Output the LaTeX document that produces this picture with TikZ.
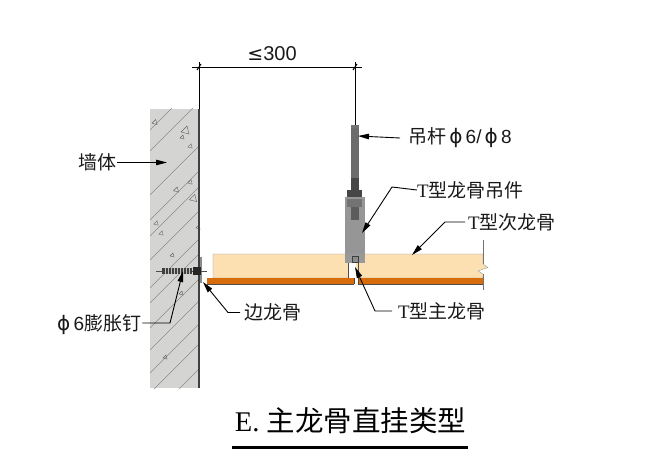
\documentclass[tikz,border=0pt]{standalone}
\usepackage{fontspec}
\setmainfont{Liberation Serif}
\newfontfamily\cjk{Noto Sans CJK SC}
\newfontfamily\dejafont{DejaVu Sans}
\newfontfamily\arialf{Liberation Sans}
\usetikzlibrary{arrows.meta,calc}
\definecolor{wallc}{RGB}{212,212,210}
\definecolor{panelc}{RGB}{252,224,178}
\definecolor{stripc}{RGB}{214,108,10}
\definecolor{boxc}{RGB}{150,150,150}
\definecolor{rodc}{RGB}{108,108,108}
\definecolor{darkc}{RGB}{70,70,70}
\definecolor{inkc}{RGB}{25,25,25}
\tikzset{
  lbl/.style={inner sep=0pt,text=inkc,font=\fontsize{19}{21}\selectfont},
  leader/.style={draw=black,line width=0.9pt,-{Stealth[length=11pt,width=5.5pt,inset=0pt]}},
  hatchl/.style={draw=black!45,line width=0.4pt},
  tri/.style={draw=black!60,line width=0.4pt}
}
\newcommand{\phichar}{{\dejafont\fontsize{20}{22}\selectfont ϕ}}
\begin{document}
\begin{tikzpicture}[x=1pt,y=-1pt]
\useasboundingbox (0,0) rectangle (661,476);
% wall
\fill[wallc] (150,109) rectangle (199,388);
\begin{scope}
\clip (150,109) rectangle (199,388);
\foreach \y in {132,153,197,222,238,262,290,305,330,352,375,395,420,445}
  \draw[hatchl] (148,\y) -- ++(60,-60);
\end{scope}
\foreach \x/\y/\r in {154.5/122/2.5,185/130/4,182/137/2,190/146/2.2,190/182/2.2,176/189.5/2.5,193/198/3.6,156/223/2.2,161/233/2.2,198/227/2,172/255/2,181/293/2,165/357/2}
  \draw[tri] (\x-\r,\y+0.5*\r) -- (\x+\r*0.5,\y-\r) -- (\x+\r,\y+\r) -- cycle;
\draw[black!75,line width=1.2pt] (199,109) -- (199,388);
% panel, strip
\fill[panelc,draw=black!45,line width=0.3pt] (213,254) -- (483,254) -- (483,264) -- (488,267.5) -- (478,271) -- (483,274) -- (483,278) -- (213,278) -- cycle;
\fill[stripc] (207,278) rectangle (354,284);
\fill[stripc] (358,278) rectangle (483.5,284);
\draw[black!70,line width=0.5pt] (207,284) -- (354,284) (358,284) -- (483.5,284);
\draw[black!55,line width=0.5pt] (483.5,240) -- (483.5,264) (483.5,274) -- (483.5,290);
% hanger
\fill[white] (347.5,263) rectangle (356,278);
\fill[white] (354,278) rectangle (358,284);
\draw[black!70,line width=0.5pt] (354,278) -- (354,284) (358,263) -- (358,284) (348,263) -- (348,278);
\fill[boxc] (345,197) rectangle (365,263);
\fill[black!40] (345,254) rectangle (365,263);
\fill[black!45,draw=black!75,line width=0.6pt] (352,256) rectangle (358,262);
\fill[rodc] (351,125) rectangle (359,178);
\fill[black!55] (351,125) rectangle (359,128);
\fill[darkc] (351,178) rectangle (359,190);
\fill[darkc] (347,190) rectangle (362,197);
\fill[black!55] (347,199) rectangle (362,207);
\fill[rodc!85!black] (351,207) rectangle (359,220);
% anchor
\fill[black!45] (200,257) rectangle (202,283);
\draw[black!70,line width=0.6pt] (156,271) -- (207,271);
\fill[black!75] (162,268) rectangle (192,274);
\fill[black!85] (193,267) rectangle (201,275);
\foreach \x in {165,168,...,189} \draw[black!25,line width=0.4pt] (\x,268) -- (\x,274);
% dimension
\coordinate (dl) at (199,67);
\coordinate (dr) at (355,67);
\coordinate (rodtop) at (355,125);
\coordinate (walltop) at (199,109);
\draw[black,line width=0.8pt] (192,67) -- (362,67);
\draw[black,line width=0.7pt] (199,62) -- (walltop);
\draw[black,line width=0.7pt] (355,62) -- (rodtop);
\draw[black,line width=1pt] (197,70) -- (201,64);
\draw[black,line width=1pt] (353,70) -- (357,64);
\node[lbl,font=\fontsize{20}{22}\selectfont] (dim) at (272,54) {{\dejafont\fontsize{19}{21}\selectfont ≤}{\arialf 300}};
% labels
\node[lbl,anchor=west] (wall) at (78,162.5) {\cjk 墙体};
\node[lbl,anchor=west] (rod) at (408,138) {{\cjk 吊杆}\,\phichar{\arialf\,6/\,}\phichar{\arialf\,8}};
\node[lbl,anchor=west] (hang) at (417,190) {T{\cjk 型龙骨吊件}};
\node[lbl,anchor=west] (sec) at (468,222) {T{\cjk 型次龙骨}};
\node[lbl,anchor=west] (main) at (398,311) {T{\cjk 型主龙骨}};
\node[lbl,anchor=west] (edge) at (244,312.5) {\cjk 边龙骨};
\node[lbl,anchor=west] (nail) at (57,325) {\phichar{\arialf\,6}{\cjk 膨胀钉}};
\node[inner sep=0pt,anchor=center,text=black,font=\fontsize{28.5}{30}\selectfont] (title) at (350.5,421) {E. {\cjk 主龙骨直挂类型}};
\coordinate (ul) at (232,447);
\coordinate (ur) at (468,447);
\draw[black,line width=3pt] (ul) -- (ur);
% leaders
\coordinate (twall) at (167,162.5);
\coordinate (trod) at (358,136);
\coordinate (thang) at (362,233);
\coordinate (tsec) at (412,255);
\coordinate (tmain) at (355,267);
\coordinate (tedge) at (203,282);
\coordinate (tnail) at (183,271);
\draw[leader] (wall.east) ++(1,0) -- (twall);
\draw[leader] (rod.west) ++(-8,0) -- (trod);
\draw[leader] (hang.west) -- (392,187) -- (thang);
\draw[leader] (sec.west) ++(-3,0) -- (445,222) -- (tsec);
\draw[leader] (main.west) ++(-6,0) -- (375,311) -- (tmain);
\draw[leader] (edge.west) ++(-4,0) -- (228,312.5) -- (tedge);
\draw[leader] (nail.east) ++(1,-2) -- (170,323) -- (tnail);
\end{tikzpicture}
\end{document}
